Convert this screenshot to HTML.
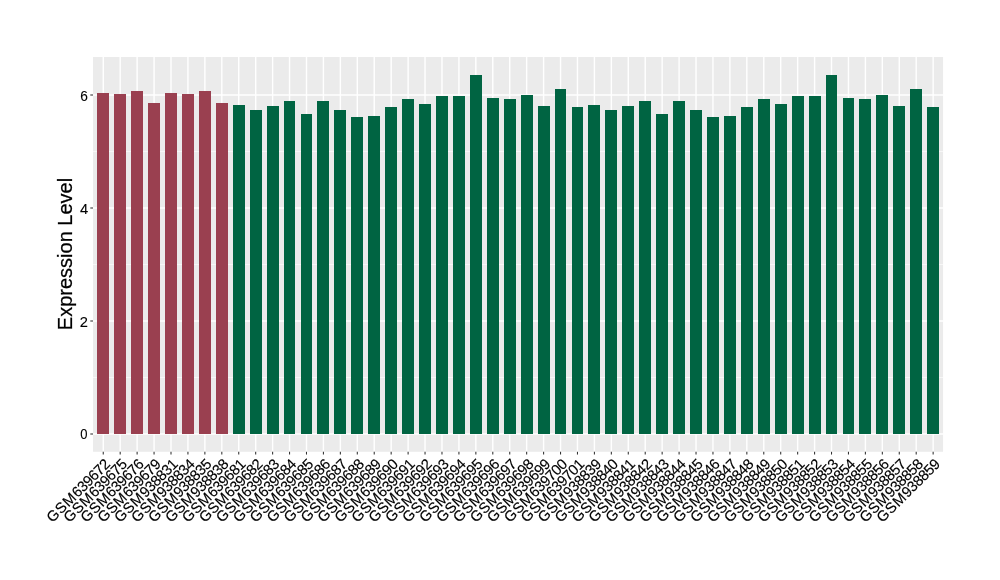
<!DOCTYPE html>
<html lang="en"><head><meta charset="utf-8"><title>Expression Level</title>
<style>html,body{margin:0;padding:0;background:#fff}body{width:1000px;height:580px;overflow:hidden}svg{display:block}text{font-family:"Liberation Sans",Arial,sans-serif;fill:#000}</style></head><body>
<svg width="1000" height="580" viewBox="0 0 1000 580">
<rect width="1000" height="580" fill="#fff"/>
<rect x="93.05" y="57.0" width="850.00" height="394.80" fill="#EBEBEB"/>
<g stroke="#fff" stroke-width="0.71" opacity="0.9">
<line x1="93.05" x2="943.05" y1="377.50" y2="377.50"/>
<line x1="93.05" x2="943.05" y1="264.50" y2="264.50"/>
<line x1="93.05" x2="943.05" y1="151.50" y2="151.50"/>
</g>
<g stroke="#fff" stroke-width="1.42">
<line x1="93.05" x2="943.05" y1="434.00" y2="434.00"/>
<line x1="93.05" x2="943.05" y1="321.00" y2="321.00"/>
<line x1="93.05" x2="943.05" y1="208.00" y2="208.00"/>
<line x1="93.05" x2="943.05" y1="95.00" y2="95.00"/>
<line x1="103.25" x2="103.25" y1="57.0" y2="451.8"/>
<line x1="120.19" x2="120.19" y1="57.0" y2="451.8"/>
<line x1="137.12" x2="137.12" y1="57.0" y2="451.8"/>
<line x1="154.06" x2="154.06" y1="57.0" y2="451.8"/>
<line x1="171.00" x2="171.00" y1="57.0" y2="451.8"/>
<line x1="187.93" x2="187.93" y1="57.0" y2="451.8"/>
<line x1="204.87" x2="204.87" y1="57.0" y2="451.8"/>
<line x1="221.81" x2="221.81" y1="57.0" y2="451.8"/>
<line x1="238.74" x2="238.74" y1="57.0" y2="451.8"/>
<line x1="255.68" x2="255.68" y1="57.0" y2="451.8"/>
<line x1="272.62" x2="272.62" y1="57.0" y2="451.8"/>
<line x1="289.55" x2="289.55" y1="57.0" y2="451.8"/>
<line x1="306.49" x2="306.49" y1="57.0" y2="451.8"/>
<line x1="323.42" x2="323.42" y1="57.0" y2="451.8"/>
<line x1="340.36" x2="340.36" y1="57.0" y2="451.8"/>
<line x1="357.30" x2="357.30" y1="57.0" y2="451.8"/>
<line x1="374.23" x2="374.23" y1="57.0" y2="451.8"/>
<line x1="391.17" x2="391.17" y1="57.0" y2="451.8"/>
<line x1="408.11" x2="408.11" y1="57.0" y2="451.8"/>
<line x1="425.04" x2="425.04" y1="57.0" y2="451.8"/>
<line x1="441.98" x2="441.98" y1="57.0" y2="451.8"/>
<line x1="458.92" x2="458.92" y1="57.0" y2="451.8"/>
<line x1="475.85" x2="475.85" y1="57.0" y2="451.8"/>
<line x1="492.79" x2="492.79" y1="57.0" y2="451.8"/>
<line x1="509.73" x2="509.73" y1="57.0" y2="451.8"/>
<line x1="526.66" x2="526.66" y1="57.0" y2="451.8"/>
<line x1="543.60" x2="543.60" y1="57.0" y2="451.8"/>
<line x1="560.54" x2="560.54" y1="57.0" y2="451.8"/>
<line x1="577.47" x2="577.47" y1="57.0" y2="451.8"/>
<line x1="594.41" x2="594.41" y1="57.0" y2="451.8"/>
<line x1="611.35" x2="611.35" y1="57.0" y2="451.8"/>
<line x1="628.28" x2="628.28" y1="57.0" y2="451.8"/>
<line x1="645.22" x2="645.22" y1="57.0" y2="451.8"/>
<line x1="662.15" x2="662.15" y1="57.0" y2="451.8"/>
<line x1="679.09" x2="679.09" y1="57.0" y2="451.8"/>
<line x1="696.03" x2="696.03" y1="57.0" y2="451.8"/>
<line x1="712.96" x2="712.96" y1="57.0" y2="451.8"/>
<line x1="729.90" x2="729.90" y1="57.0" y2="451.8"/>
<line x1="746.84" x2="746.84" y1="57.0" y2="451.8"/>
<line x1="763.77" x2="763.77" y1="57.0" y2="451.8"/>
<line x1="780.71" x2="780.71" y1="57.0" y2="451.8"/>
<line x1="797.65" x2="797.65" y1="57.0" y2="451.8"/>
<line x1="814.58" x2="814.58" y1="57.0" y2="451.8"/>
<line x1="831.52" x2="831.52" y1="57.0" y2="451.8"/>
<line x1="848.46" x2="848.46" y1="57.0" y2="451.8"/>
<line x1="865.39" x2="865.39" y1="57.0" y2="451.8"/>
<line x1="882.33" x2="882.33" y1="57.0" y2="451.8"/>
<line x1="899.27" x2="899.27" y1="57.0" y2="451.8"/>
<line x1="916.20" x2="916.20" y1="57.0" y2="451.8"/>
<line x1="933.14" x2="933.14" y1="57.0" y2="451.8"/>
</g>
<g shape-rendering="crispEdges">
<rect x="97" y="93" width="12" height="341" fill="#9A4050"/>
<rect x="114" y="94" width="12" height="340" fill="#9A4050"/>
<rect x="131" y="91" width="12" height="343" fill="#9A4050"/>
<rect x="148" y="103" width="12" height="331" fill="#9A4050"/>
<rect x="165" y="93" width="12" height="341" fill="#9A4050"/>
<rect x="182" y="94" width="12" height="340" fill="#9A4050"/>
<rect x="199" y="91" width="12" height="343" fill="#9A4050"/>
<rect x="216" y="103" width="12" height="331" fill="#9A4050"/>
<rect x="233" y="105" width="12" height="329" fill="#006442"/>
<rect x="250" y="110" width="12" height="324" fill="#006442"/>
<rect x="267" y="106" width="12" height="328" fill="#006442"/>
<rect x="284" y="101" width="11" height="333" fill="#006442"/>
<rect x="301" y="114" width="11" height="320" fill="#006442"/>
<rect x="317" y="101" width="12" height="333" fill="#006442"/>
<rect x="334" y="110" width="12" height="324" fill="#006442"/>
<rect x="351" y="117" width="12" height="317" fill="#006442"/>
<rect x="368" y="116" width="12" height="318" fill="#006442"/>
<rect x="385" y="107" width="12" height="327" fill="#006442"/>
<rect x="402" y="99" width="12" height="335" fill="#006442"/>
<rect x="419" y="104" width="12" height="330" fill="#006442"/>
<rect x="436" y="96" width="12" height="338" fill="#006442"/>
<rect x="453" y="96" width="12" height="338" fill="#006442"/>
<rect x="470" y="75" width="12" height="359" fill="#006442"/>
<rect x="487" y="98" width="12" height="336" fill="#006442"/>
<rect x="504" y="99" width="12" height="335" fill="#006442"/>
<rect x="521" y="95" width="12" height="339" fill="#006442"/>
<rect x="538" y="106" width="12" height="328" fill="#006442"/>
<rect x="555" y="89" width="11" height="345" fill="#006442"/>
<rect x="572" y="107" width="11" height="327" fill="#006442"/>
<rect x="588" y="105" width="12" height="329" fill="#006442"/>
<rect x="605" y="110" width="12" height="324" fill="#006442"/>
<rect x="622" y="106" width="12" height="328" fill="#006442"/>
<rect x="639" y="101" width="12" height="333" fill="#006442"/>
<rect x="656" y="114" width="12" height="320" fill="#006442"/>
<rect x="673" y="101" width="12" height="333" fill="#006442"/>
<rect x="690" y="110" width="12" height="324" fill="#006442"/>
<rect x="707" y="117" width="12" height="317" fill="#006442"/>
<rect x="724" y="116" width="12" height="318" fill="#006442"/>
<rect x="741" y="107" width="12" height="327" fill="#006442"/>
<rect x="758" y="99" width="12" height="335" fill="#006442"/>
<rect x="775" y="104" width="12" height="330" fill="#006442"/>
<rect x="792" y="96" width="12" height="338" fill="#006442"/>
<rect x="809" y="96" width="12" height="338" fill="#006442"/>
<rect x="826" y="75" width="11" height="359" fill="#006442"/>
<rect x="843" y="98" width="11" height="336" fill="#006442"/>
<rect x="859" y="99" width="12" height="335" fill="#006442"/>
<rect x="876" y="95" width="12" height="339" fill="#006442"/>
<rect x="893" y="106" width="12" height="328" fill="#006442"/>
<rect x="910" y="89" width="12" height="345" fill="#006442"/>
<rect x="927" y="107" width="12" height="327" fill="#006442"/>
</g>
<g stroke="#333" stroke-width="1.07">
<line x1="90.30" x2="93.05" y1="434.00" y2="434.00"/>
<line x1="90.30" x2="93.05" y1="321.00" y2="321.00"/>
<line x1="90.30" x2="93.05" y1="208.00" y2="208.00"/>
<line x1="90.30" x2="93.05" y1="95.00" y2="95.00"/>
<line x1="103.25" x2="103.25" y1="451.8" y2="454.55"/>
<line x1="120.19" x2="120.19" y1="451.8" y2="454.55"/>
<line x1="137.12" x2="137.12" y1="451.8" y2="454.55"/>
<line x1="154.06" x2="154.06" y1="451.8" y2="454.55"/>
<line x1="171.00" x2="171.00" y1="451.8" y2="454.55"/>
<line x1="187.93" x2="187.93" y1="451.8" y2="454.55"/>
<line x1="204.87" x2="204.87" y1="451.8" y2="454.55"/>
<line x1="221.81" x2="221.81" y1="451.8" y2="454.55"/>
<line x1="238.74" x2="238.74" y1="451.8" y2="454.55"/>
<line x1="255.68" x2="255.68" y1="451.8" y2="454.55"/>
<line x1="272.62" x2="272.62" y1="451.8" y2="454.55"/>
<line x1="289.55" x2="289.55" y1="451.8" y2="454.55"/>
<line x1="306.49" x2="306.49" y1="451.8" y2="454.55"/>
<line x1="323.42" x2="323.42" y1="451.8" y2="454.55"/>
<line x1="340.36" x2="340.36" y1="451.8" y2="454.55"/>
<line x1="357.30" x2="357.30" y1="451.8" y2="454.55"/>
<line x1="374.23" x2="374.23" y1="451.8" y2="454.55"/>
<line x1="391.17" x2="391.17" y1="451.8" y2="454.55"/>
<line x1="408.11" x2="408.11" y1="451.8" y2="454.55"/>
<line x1="425.04" x2="425.04" y1="451.8" y2="454.55"/>
<line x1="441.98" x2="441.98" y1="451.8" y2="454.55"/>
<line x1="458.92" x2="458.92" y1="451.8" y2="454.55"/>
<line x1="475.85" x2="475.85" y1="451.8" y2="454.55"/>
<line x1="492.79" x2="492.79" y1="451.8" y2="454.55"/>
<line x1="509.73" x2="509.73" y1="451.8" y2="454.55"/>
<line x1="526.66" x2="526.66" y1="451.8" y2="454.55"/>
<line x1="543.60" x2="543.60" y1="451.8" y2="454.55"/>
<line x1="560.54" x2="560.54" y1="451.8" y2="454.55"/>
<line x1="577.47" x2="577.47" y1="451.8" y2="454.55"/>
<line x1="594.41" x2="594.41" y1="451.8" y2="454.55"/>
<line x1="611.35" x2="611.35" y1="451.8" y2="454.55"/>
<line x1="628.28" x2="628.28" y1="451.8" y2="454.55"/>
<line x1="645.22" x2="645.22" y1="451.8" y2="454.55"/>
<line x1="662.15" x2="662.15" y1="451.8" y2="454.55"/>
<line x1="679.09" x2="679.09" y1="451.8" y2="454.55"/>
<line x1="696.03" x2="696.03" y1="451.8" y2="454.55"/>
<line x1="712.96" x2="712.96" y1="451.8" y2="454.55"/>
<line x1="729.90" x2="729.90" y1="451.8" y2="454.55"/>
<line x1="746.84" x2="746.84" y1="451.8" y2="454.55"/>
<line x1="763.77" x2="763.77" y1="451.8" y2="454.55"/>
<line x1="780.71" x2="780.71" y1="451.8" y2="454.55"/>
<line x1="797.65" x2="797.65" y1="451.8" y2="454.55"/>
<line x1="814.58" x2="814.58" y1="451.8" y2="454.55"/>
<line x1="831.52" x2="831.52" y1="451.8" y2="454.55"/>
<line x1="848.46" x2="848.46" y1="451.8" y2="454.55"/>
<line x1="865.39" x2="865.39" y1="451.8" y2="454.55"/>
<line x1="882.33" x2="882.33" y1="451.8" y2="454.55"/>
<line x1="899.27" x2="899.27" y1="451.8" y2="454.55"/>
<line x1="916.20" x2="916.20" y1="451.8" y2="454.55"/>
<line x1="933.14" x2="933.14" y1="451.8" y2="454.55"/>
</g>
<g font-size="14" text-anchor="end" stroke="#000" stroke-width="0.1">
<text transform="translate(87.6,439.00) scale(0.93,1)">0</text>
<text transform="translate(88.0,327.00) scale(1.05,1)">2</text>
<text transform="translate(88.2,214.00) scale(1.05,1)">4</text>
<text transform="translate(87.8,101.00) scale(0.98,1)">6</text>
</g>
<text font-size="21" text-anchor="middle" transform="translate(71.7,254) rotate(-90) scale(0.953,1)" stroke="#000" stroke-width="0.25">Expression Level</text>
<g font-size="14.8" text-anchor="end" stroke="#000" stroke-width="0.15">
<text transform="translate(103.85,457.65) rotate(-45)" x="0" y="10.2" dx="0 0.5 0.6 0.7 -0.45 -0.45 -0.45 -0.45 -0.45">GSM639672</text>
<text transform="translate(120.79,457.65) rotate(-45)" x="0" y="10.2" dx="0 0.5 0.6 0.7 -0.45 -0.45 -0.45 -0.45 -0.45">GSM639675</text>
<text transform="translate(137.72,457.65) rotate(-45)" x="0" y="10.2" dx="0 0.5 0.6 0.7 -0.45 -0.45 -0.45 -0.45 -0.45">GSM639676</text>
<text transform="translate(154.66,457.65) rotate(-45)" x="0" y="10.2" dx="0 0.5 0.6 0.7 -0.45 -0.45 -0.45 -0.45 -0.45">GSM639679</text>
<text transform="translate(171.60,457.65) rotate(-45)" x="0" y="10.2" dx="0 0.5 0.6 0.7 -0.45 -0.45 -0.45 -0.45 -0.45">GSM938831</text>
<text transform="translate(188.53,457.65) rotate(-45)" x="0" y="10.2" dx="0 0.5 0.6 0.7 -0.45 -0.45 -0.45 -0.45 -0.45">GSM938834</text>
<text transform="translate(205.47,457.65) rotate(-45)" x="0" y="10.2" dx="0 0.5 0.6 0.7 -0.45 -0.45 -0.45 -0.45 -0.45">GSM938835</text>
<text transform="translate(222.41,457.65) rotate(-45)" x="0" y="10.2" dx="0 0.5 0.6 0.7 -0.45 -0.45 -0.45 -0.45 -0.45">GSM938838</text>
<text transform="translate(239.34,457.65) rotate(-45)" x="0" y="10.2" dx="0 0.5 0.6 0.7 -0.45 -0.45 -0.45 -0.45 -0.45">GSM639681</text>
<text transform="translate(256.28,457.65) rotate(-45)" x="0" y="10.2" dx="0 0.5 0.6 0.7 -0.45 -0.45 -0.45 -0.45 -0.45">GSM639682</text>
<text transform="translate(273.22,457.65) rotate(-45)" x="0" y="10.2" dx="0 0.5 0.6 0.7 -0.45 -0.45 -0.45 -0.45 -0.45">GSM639683</text>
<text transform="translate(290.15,457.65) rotate(-45)" x="0" y="10.2" dx="0 0.5 0.6 0.7 -0.45 -0.45 -0.45 -0.45 -0.45">GSM639684</text>
<text transform="translate(307.09,457.65) rotate(-45)" x="0" y="10.2" dx="0 0.5 0.6 0.7 -0.45 -0.45 -0.45 -0.45 -0.45">GSM639685</text>
<text transform="translate(324.02,457.65) rotate(-45)" x="0" y="10.2" dx="0 0.5 0.6 0.7 -0.45 -0.45 -0.45 -0.45 -0.45">GSM639686</text>
<text transform="translate(340.96,457.65) rotate(-45)" x="0" y="10.2" dx="0 0.5 0.6 0.7 -0.45 -0.45 -0.45 -0.45 -0.45">GSM639687</text>
<text transform="translate(357.90,457.65) rotate(-45)" x="0" y="10.2" dx="0 0.5 0.6 0.7 -0.45 -0.45 -0.45 -0.45 -0.45">GSM639688</text>
<text transform="translate(374.83,457.65) rotate(-45)" x="0" y="10.2" dx="0 0.5 0.6 0.7 -0.45 -0.45 -0.45 -0.45 -0.45">GSM639689</text>
<text transform="translate(391.77,457.65) rotate(-45)" x="0" y="10.2" dx="0 0.5 0.6 0.7 -0.45 -0.45 -0.45 -0.45 -0.45">GSM639690</text>
<text transform="translate(408.71,457.65) rotate(-45)" x="0" y="10.2" dx="0 0.5 0.6 0.7 -0.45 -0.45 -0.45 -0.45 -0.45">GSM639691</text>
<text transform="translate(425.64,457.65) rotate(-45)" x="0" y="10.2" dx="0 0.5 0.6 0.7 -0.45 -0.45 -0.45 -0.45 -0.45">GSM639692</text>
<text transform="translate(442.58,457.65) rotate(-45)" x="0" y="10.2" dx="0 0.5 0.6 0.7 -0.45 -0.45 -0.45 -0.45 -0.45">GSM639693</text>
<text transform="translate(459.52,457.65) rotate(-45)" x="0" y="10.2" dx="0 0.5 0.6 0.7 -0.45 -0.45 -0.45 -0.45 -0.45">GSM639694</text>
<text transform="translate(476.45,457.65) rotate(-45)" x="0" y="10.2" dx="0 0.5 0.6 0.7 -0.45 -0.45 -0.45 -0.45 -0.45">GSM639695</text>
<text transform="translate(493.39,457.65) rotate(-45)" x="0" y="10.2" dx="0 0.5 0.6 0.7 -0.45 -0.45 -0.45 -0.45 -0.45">GSM639696</text>
<text transform="translate(510.33,457.65) rotate(-45)" x="0" y="10.2" dx="0 0.5 0.6 0.7 -0.45 -0.45 -0.45 -0.45 -0.45">GSM639697</text>
<text transform="translate(527.26,457.65) rotate(-45)" x="0" y="10.2" dx="0 0.5 0.6 0.7 -0.45 -0.45 -0.45 -0.45 -0.45">GSM639698</text>
<text transform="translate(544.20,457.65) rotate(-45)" x="0" y="10.2" dx="0 0.5 0.6 0.7 -0.45 -0.45 -0.45 -0.45 -0.45">GSM639699</text>
<text transform="translate(561.14,457.65) rotate(-45)" x="0" y="10.2" dx="0 0.5 0.6 0.7 -0.45 -0.45 -0.45 -0.45 -0.45">GSM639700</text>
<text transform="translate(578.07,457.65) rotate(-45)" x="0" y="10.2" dx="0 0.5 0.6 0.7 -0.45 -0.45 -0.45 -0.45 -0.45">GSM639701</text>
<text transform="translate(595.01,457.65) rotate(-45)" x="0" y="10.2" dx="0 0.5 0.6 0.7 -0.45 -0.45 -0.45 -0.45 -0.45">GSM938839</text>
<text transform="translate(611.95,457.65) rotate(-45)" x="0" y="10.2" dx="0 0.5 0.6 0.7 -0.45 -0.45 -0.45 -0.45 -0.45">GSM938840</text>
<text transform="translate(628.88,457.65) rotate(-45)" x="0" y="10.2" dx="0 0.5 0.6 0.7 -0.45 -0.45 -0.45 -0.45 -0.45">GSM938841</text>
<text transform="translate(645.82,457.65) rotate(-45)" x="0" y="10.2" dx="0 0.5 0.6 0.7 -0.45 -0.45 -0.45 -0.45 -0.45">GSM938842</text>
<text transform="translate(662.75,457.65) rotate(-45)" x="0" y="10.2" dx="0 0.5 0.6 0.7 -0.45 -0.45 -0.45 -0.45 -0.45">GSM938843</text>
<text transform="translate(679.69,457.65) rotate(-45)" x="0" y="10.2" dx="0 0.5 0.6 0.7 -0.45 -0.45 -0.45 -0.45 -0.45">GSM938844</text>
<text transform="translate(696.63,457.65) rotate(-45)" x="0" y="10.2" dx="0 0.5 0.6 0.7 -0.45 -0.45 -0.45 -0.45 -0.45">GSM938845</text>
<text transform="translate(713.56,457.65) rotate(-45)" x="0" y="10.2" dx="0 0.5 0.6 0.7 -0.45 -0.45 -0.45 -0.45 -0.45">GSM938846</text>
<text transform="translate(730.50,457.65) rotate(-45)" x="0" y="10.2" dx="0 0.5 0.6 0.7 -0.45 -0.45 -0.45 -0.45 -0.45">GSM938847</text>
<text transform="translate(747.44,457.65) rotate(-45)" x="0" y="10.2" dx="0 0.5 0.6 0.7 -0.45 -0.45 -0.45 -0.45 -0.45">GSM938848</text>
<text transform="translate(764.37,457.65) rotate(-45)" x="0" y="10.2" dx="0 0.5 0.6 0.7 -0.45 -0.45 -0.45 -0.45 -0.45">GSM938849</text>
<text transform="translate(781.31,457.65) rotate(-45)" x="0" y="10.2" dx="0 0.5 0.6 0.7 -0.45 -0.45 -0.45 -0.45 -0.45">GSM938850</text>
<text transform="translate(798.25,457.65) rotate(-45)" x="0" y="10.2" dx="0 0.5 0.6 0.7 -0.45 -0.45 -0.45 -0.45 -0.45">GSM938851</text>
<text transform="translate(815.18,457.65) rotate(-45)" x="0" y="10.2" dx="0 0.5 0.6 0.7 -0.45 -0.45 -0.45 -0.45 -0.45">GSM938852</text>
<text transform="translate(832.12,457.65) rotate(-45)" x="0" y="10.2" dx="0 0.5 0.6 0.7 -0.45 -0.45 -0.45 -0.45 -0.45">GSM938853</text>
<text transform="translate(849.06,457.65) rotate(-45)" x="0" y="10.2" dx="0 0.5 0.6 0.7 -0.45 -0.45 -0.45 -0.45 -0.45">GSM938854</text>
<text transform="translate(865.99,457.65) rotate(-45)" x="0" y="10.2" dx="0 0.5 0.6 0.7 -0.45 -0.45 -0.45 -0.45 -0.45">GSM938855</text>
<text transform="translate(882.93,457.65) rotate(-45)" x="0" y="10.2" dx="0 0.5 0.6 0.7 -0.45 -0.45 -0.45 -0.45 -0.45">GSM938856</text>
<text transform="translate(899.87,457.65) rotate(-45)" x="0" y="10.2" dx="0 0.5 0.6 0.7 -0.45 -0.45 -0.45 -0.45 -0.45">GSM938857</text>
<text transform="translate(916.80,457.65) rotate(-45)" x="0" y="10.2" dx="0 0.5 0.6 0.7 -0.45 -0.45 -0.45 -0.45 -0.45">GSM938858</text>
<text transform="translate(933.74,457.65) rotate(-45)" x="0" y="10.2" dx="0 0.5 0.6 0.7 -0.45 -0.45 -0.45 -0.45 -0.45">GSM938859</text>
</g>
</svg></body></html>
